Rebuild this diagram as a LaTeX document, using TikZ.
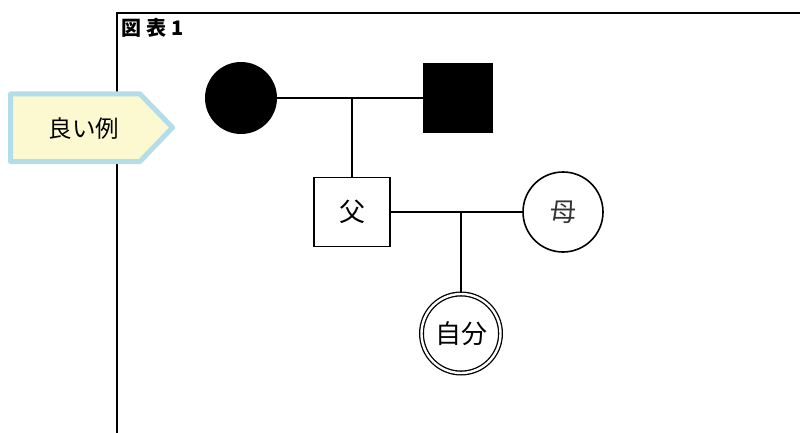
\documentclass[tikz,border=0pt]{standalone}
\usepackage{fontspec}
\setmainfont{Noto Sans CJK JP}
\usetikzlibrary{shapes.geometric}
\definecolor{calloutfill}{HTML}{FCF8CF}
\definecolor{calloutedge}{HTML}{B3DDE8}
\tikzset{
  link/.style={line width=2pt},
  person/.style={draw, line width=1.6pt, inner sep=0pt, font=\fontsize{26}{26}\selectfont},
}
\begin{document}
\begin{tikzpicture}[x=1pt,y=-1pt]
\useasboundingbox (0,0) rectangle (800,433);
% frame
\coordinate (ftr) at (800,13);
\coordinate (ftl) at (117,13);
\coordinate (fbl) at (117,433);
\draw[line width=2pt] (ftr) -- (ftl) -- (fbl);
\node[anchor=west, inner sep=0pt, font=\bfseries\fontsize{20}{20}\selectfont] (title) at (121,27.5) {図\hspace{5pt}表\hspace{5pt}1};
% callout
\draw[line width=5pt, line join=round, draw=calloutedge, fill=calloutfill]
  (10.5,94) -- (140,94) -- (172.5,127.5) -- (140,161.5) -- (10.5,161.5) -- cycle;
\node[font=\fontsize{23.5}{23.5}\selectfont] (good) at (84,129) {良い例};
% grandparents
\node[circle, fill, minimum size=72pt, inner sep=0pt] (gm) at (241,98) {};
\node[rectangle, fill, minimum size=70pt, inner sep=0pt] (gf) at (458,98) {};
\draw[link] (gm) -- (gf);
\coordinate (m1) at (352,98);
% parents
\node[person, rectangle, minimum width=76pt, minimum height=69pt] (fa) at (352,212) {父};
\draw[link] (m1) -- (fa.north);
\node[person, circle, minimum size=80pt, text=black!80] (mo) at (563,212) {母};
\draw[link] (fa.east) -- (mo.west);
\coordinate (m2) at (461,212);
% self
\node[person, circle, double, line width=1.3pt, double distance=2.4pt, minimum size=79pt] (me) at (461,333.5) {自分};
\draw[link] (m2) -- (me.north);
\end{tikzpicture}
\end{document}
